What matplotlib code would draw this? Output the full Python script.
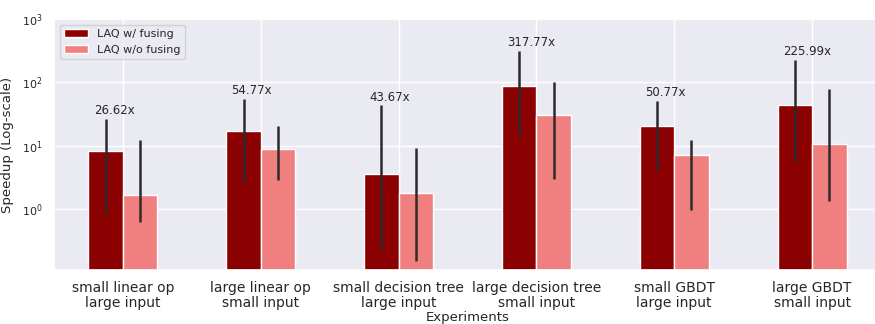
import numpy as np
import matplotlib
matplotlib.use("Agg")
import matplotlib.pyplot as plt
import seaborn as sns

experiments = ["small linear op\nlarge input", "large linear op\nsmall input",
               "small decision tree\nlarge input", "large decision tree\nsmall input",
               "small GBDT\nlarge input", "large GBDT\nsmall input"]

# mean speedup and min/max across runs
fused_mean = [8.2, 16.9, 3.58, 86.3, 20.6, 43.4]
fused_min = [0.83, 2.59, 0.232, 14.3, 4.04, 5.5]
fused_max = [26.62, 54.77, 43.67, 317.77, 50.77, 225.99]

unfused_mean = [1.66, 8.9, 1.78, 30.2, 7.1, 10.5]
unfused_min = [0.64, 2.85, 0.154, 2.96, 0.975, 1.35]
unfused_max = [12.2, 20.8, 9.2, 100.0, 12.2, 79.3]

sns.set_theme(style="darkgrid")

fig = plt.figure(figsize=(8.75, 3.24), dpi=100)
ax = fig.add_axes([54 / 875, 54 / 324, 827 / 875, 251 / 324])

x = np.arange(len(experiments))
w = 0.25

fm = np.array(fused_mean)
um = np.array(unfused_mean)
f_err = [fm - np.array(fused_min), np.array(fused_max) - fm]
u_err = [um - np.array(unfused_min), np.array(unfused_max) - um]

ax.bar(x - w / 2, fm, w, color="darkred", edgecolor="white", linewidth=1,
       label="LAQ w/ fusing")
ax.bar(x + w / 2, um, w, color="lightcoral", edgecolor="white", linewidth=1,
       label="LAQ w/o fusing")
ax.errorbar(x - w / 2, fm, yerr=f_err, fmt="none", ecolor="#2b2b2b", elinewidth=1.8)
ax.errorbar(x + w / 2, um, yerr=u_err, fmt="none", ecolor="#2b2b2b", elinewidth=1.8)

# max speedup printed above each fused bar
for xi, top in zip(x, fused_max):
    ax.text(xi - w * 0.85, top * 1.06, "%.2fx" % top, ha="left", va="bottom",
            fontsize=8.5, color="#262626")

ax.set_yscale("log")
ax.set_ylim(0.11, 1000)
ax.set_xlim(-0.5, 5.5)
ax.set_xticks(x)
ax.set_xticklabels(experiments, fontsize=10, linespacing=1.05)
ax.tick_params(axis="y", labelsize=8, pad=2)
ax.tick_params(axis="x", pad=2)
ax.set_xlabel("Experiments", fontsize=9.5, labelpad=1)
ax.set_ylabel("Speedup (Log-scale)", fontsize=9.5, labelpad=6)
ax.legend(loc="upper left", fontsize=8, handlelength=2.2)

fig.savefig("out.png")
